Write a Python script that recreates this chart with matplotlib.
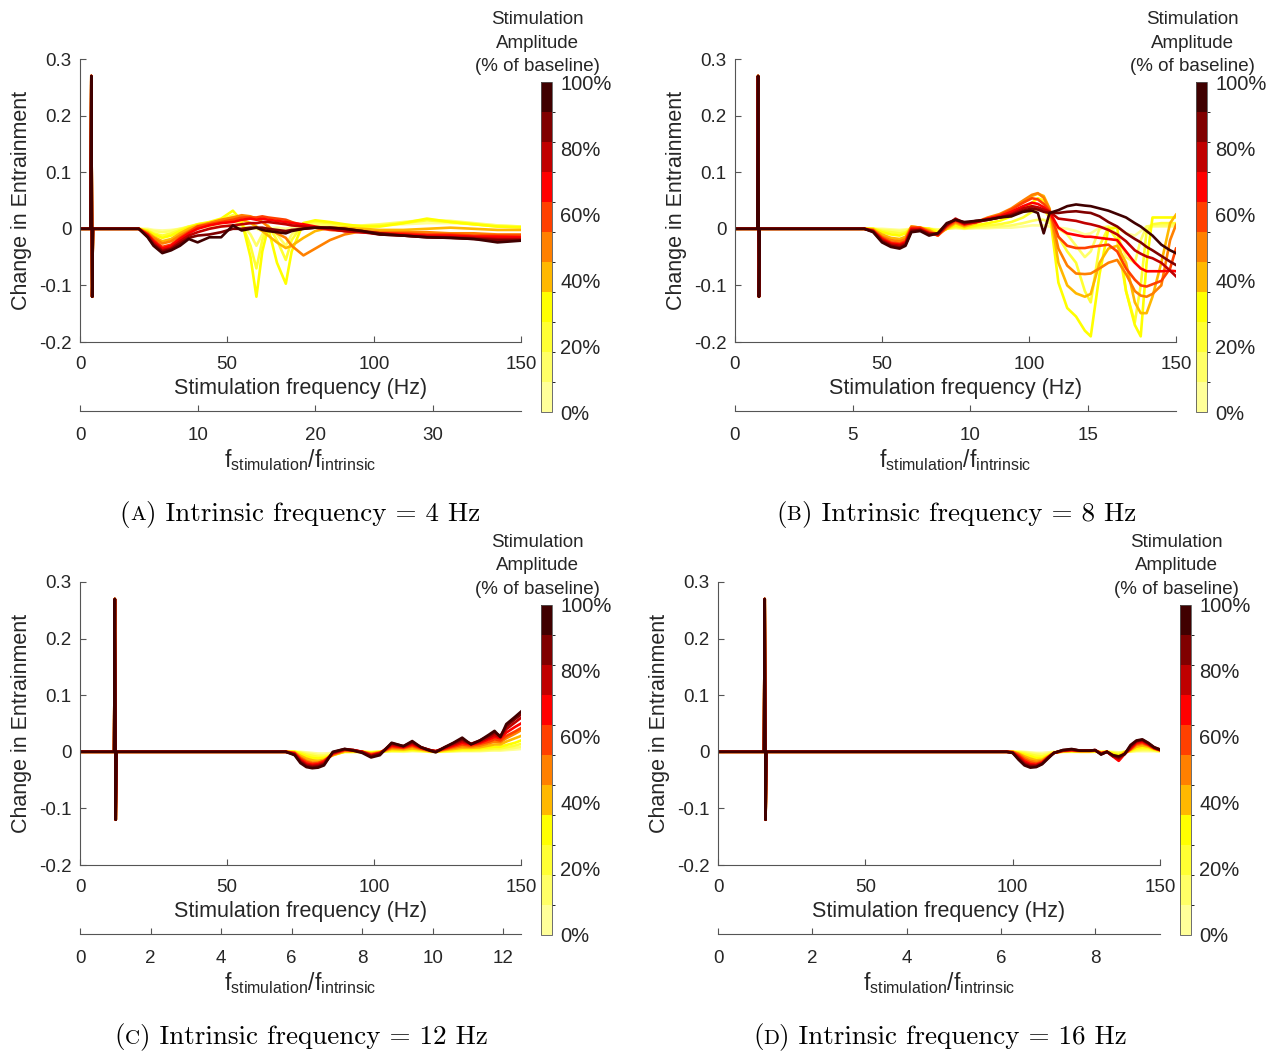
import numpy as np
import matplotlib
matplotlib.use('Agg')
import matplotlib.pyplot as plt
from matplotlib.colors import ListedColormap, BoundaryNorm
from matplotlib.cm import ScalarMappable
from matplotlib.offsetbox import TextArea, HPacker, AnchoredOffsetbox

plt.rcParams['font.family'] = ['Liberation Sans', 'DejaVu Sans']
plt.rcParams['mathtext.fontset'] = 'custom'
plt.rcParams['mathtext.rm'] = 'Liberation Sans'

W, H = 1274, 1052
TXT = '#262626'
AX = '#555555'
FS_TICK = 13.5
FS_LAB = 15.5

# amplitude levels 0% .. 100%, pale yellow -> dark brown
amp_colors = ['#ffff99', '#ffff66', '#ffff33', '#ffff00', '#ffb800', '#ff8000',
              '#ff4000', '#ff0000', '#c00000', '#800000', '#400000']
amp_ticks = [0, 20, 40, 60, 80, 100]
intrinsic = [4, 8, 12, 16]
letters = ['A', 'B', 'C', 'D']
freq_ticks = [0, 50, 100, 150]
ytick_vals = [-0.2, -0.1, 0, 0.1, 0.2, 0.3]
ytick_txt = ['-0.2', '-0.1', '0', '0.1', '0.2', '0.3']
ratio_ticks_a = [0, 10, 20, 30]
ratio_ticks_b = [0, 5, 10, 15]
ratio_ticks_c = [0, 2, 4, 6, 8, 10, 12]
ratio_ticks_d = [0, 2, 4, 6, 8]

# resonance spike at the intrinsic frequency (same for every amplitude)
spike_offset = [-0.4, -0.15, 0.15, 0.4]
spike_change = [0.0, 0.27, -0.12, 0.0]

freq_a = [20, 23, 25, 28, 31, 34, 37, 40, 44, 48, 52, 55, 58, 60, 62, 64, 67, 70, 72, 76,
          80, 85, 90, 96, 102, 110, 118, 126, 134, 142, 150]
change_a = [
    [0, 0, -0.002, -0.003, -0.002, 0, 0.002, 0.003, 0.003, 0.004, 0.006, 0.004, 0.002, 0, -0.004, 0, 0.002, 0, 0.002, 0.004, 0.005, 0.004, 0.003, 0.004, 0.006, 0.008, 0.010, 0.010, 0.008, 0.006, 0.004],
    [0, -0.002, -0.004, -0.006, -0.004, 0, 0.004, 0.006, 0.008, 0.010, 0.014, 0.008, -0.010, -0.030, -0.010, 0.004, -0.010, -0.030, -0.010, 0.006, 0.008, 0.006, 0.005, 0.006, 0.008, 0.012, 0.016, 0.014, 0.010, 0.006, 0.004],
    [0, -0.003, -0.008, -0.012, -0.008, -0.002, 0.004, 0.008, 0.010, 0.016, 0.024, 0.010, -0.030, -0.070, -0.020, 0.006, -0.020, -0.055, -0.020, 0.010, 0.012, 0.010, 0.006, 0.005, 0.006, 0.010, 0.015, 0.012, 0.008, 0.004, 0.002],
    [0, -0.004, -0.010, -0.016, -0.012, -0.004, 0.002, 0.008, 0.012, 0.018, 0.032, 0.014, -0.050, -0.120, -0.040, 0.002, -0.060, -0.097, -0.040, 0.010, 0.015, 0.012, 0.008, 0.004, 0.004, 0.010, 0.018, 0.012, 0.008, 0.004, 0.003],
    [0, -0.006, -0.014, -0.022, -0.018, -0.008, 0.000, 0.006, 0.010, 0.014, 0.020, 0.016, 0.010, 0.004, -0.004, -0.012, -0.024, -0.034, -0.030, -0.016, -0.004, 0.002, 0.002, 0.000, -0.002, -0.002, 0.000, 0.002, 0.000, -0.002, -0.002],
    [0, -0.008, -0.016, -0.026, -0.022, -0.012, -0.004, 0.004, 0.010, 0.016, 0.020, 0.024, 0.022, 0.018, 0.012, 0.004, -0.008, -0.016, -0.030, -0.047, -0.035, -0.020, -0.010, -0.004, -0.006, -0.006, -0.006, -0.008, -0.008, -0.010, -0.010],
    [0, -0.010, -0.020, -0.032, -0.028, -0.016, -0.006, 0.004, 0.008, 0.012, 0.016, 0.020, 0.020, 0.020, 0.022, 0.020, 0.018, 0.016, 0.012, 0.006, 0.002, -0.002, -0.004, -0.006, -0.008, -0.008, -0.010, -0.010, -0.012, -0.012, -0.012],
    [0, -0.010, -0.022, -0.035, -0.030, -0.018, -0.008, 0.000, 0.006, 0.010, 0.012, 0.016, 0.018, 0.016, 0.018, 0.016, 0.014, 0.012, 0.010, 0.008, 0.004, 0.000, -0.004, -0.006, -0.008, -0.010, -0.012, -0.012, -0.014, -0.014, -0.015],
    [0, -0.012, -0.025, -0.038, -0.034, -0.022, -0.012, -0.006, 0.000, 0.004, 0.006, 0.008, 0.010, 0.010, 0.012, 0.012, 0.010, 0.008, 0.006, 0.004, 0.002, 0.000, -0.004, -0.006, -0.010, -0.012, -0.014, -0.015, -0.016, -0.018, -0.018],
    [0, -0.014, -0.028, -0.040, -0.036, -0.026, -0.016, -0.012, -0.010, -0.006, 0.000, 0.000, 0.002, 0.002, 0.002, 0.000, -0.002, -0.004, -0.002, 0.000, 0.002, 0.002, 0.000, -0.004, -0.008, -0.012, -0.015, -0.016, -0.018, -0.020, -0.020],
    [0, -0.015, -0.030, -0.043, -0.038, -0.030, -0.018, -0.024, -0.015, -0.015, 0.006, -0.003, 0.000, 0.002, -0.002, -0.004, -0.006, -0.008, -0.004, 0.000, 0.002, 0.002, 0.000, -0.004, -0.010, -0.012, -0.015, -0.016, -0.018, -0.024, -0.021],
]

freq_b = [44, 47, 50, 53, 56, 58, 60, 63, 66, 69, 72, 75, 78, 82, 86, 90, 94, 98, 101, 103, 105, 107,
          110, 113, 116, 119, 121, 124, 127, 130, 133, 136, 138, 140, 142, 145, 148, 150]
change_b = [
    [0, 0, 0, -0.001, -0.002, -0.001, 0, 0, 0, -0.001, 0, 0.001, 0, 0.001, 0.001, 0.002, 0.002, 0.004, 0.006, 0.006, 0.006, 0.004,
     0.002, 0.000, -0.004, -0.010, -0.008, 0.002, 0.004, 0.002, -0.008, -0.012, -0.004, 0.004, 0.004, 0.004, 0.004, 0.004],
    [0, 0, -0.002, -0.003, -0.004, -0.003, 0, 0.001, 0, -0.002, 0, 0.002, 0.001, 0.002, 0.003, 0.004, 0.006, 0.010, 0.014, 0.016, 0.016, 0.010,
     0.000, -0.010, -0.030, -0.050, -0.040, 0.000, 0.004, -0.010, -0.050, -0.060, -0.020, 0.004, 0.006, 0.006, 0.006, 0.006],
    [0, 0, -0.004, -0.006, -0.008, -0.006, 0.000, 0.001, 0.000, -0.004, 0.000, 0.004, 0.001, 0.004, 0.006, 0.008, 0.012, 0.020, 0.030, 0.036, 0.034, 0.020,
     -0.014, -0.040, -0.060, -0.110, -0.130, -0.030, 0.002, -0.020, -0.110, -0.165, -0.100, -0.005, 0.008, 0.010, 0.010, 0.010],
    [0, 0, -0.006, -0.010, -0.012, -0.008, 0.002, 0.002, 0.000, -0.006, 0.000, 0.006, 0.002, 0.006, 0.010, 0.014, 0.022, 0.034, 0.046, 0.054, 0.050, 0.030,
     -0.095, -0.140, -0.155, -0.180, -0.190, -0.080, 0.000, 0.002, -0.110, -0.170, -0.190, -0.060, 0.020, 0.020, 0.020, 0.020],
    [0, -0.001, -0.010, -0.016, -0.018, -0.014, 0.004, 0.002, -0.002, -0.010, 0.000, 0.010, 0.004, 0.010, 0.018, 0.024, 0.034, 0.048, 0.058, 0.062, 0.058, 0.036,
     -0.060, -0.100, -0.114, -0.120, -0.115, -0.060, -0.035, -0.030, -0.060, -0.130, -0.149, -0.149, -0.120, -0.060, 0.010, 0.025],
    [0, -0.002, -0.014, -0.020, -0.022, -0.018, 0.004, 0.002, -0.004, -0.012, 0.002, 0.012, 0.006, 0.012, 0.020, 0.026, 0.036, 0.050, 0.060, 0.063, 0.055, 0.034,
     -0.035, -0.065, -0.079, -0.080, -0.079, -0.070, -0.060, -0.055, -0.080, -0.110, -0.118, -0.120, -0.115, -0.100, -0.020, 0.007],
    [0, -0.003, -0.016, -0.024, -0.026, -0.022, 0.002, 0.002, -0.006, -0.012, 0.004, 0.014, 0.008, 0.012, 0.018, 0.024, 0.034, 0.046, 0.054, 0.052, 0.044, 0.032,
     -0.014, -0.030, -0.034, -0.034, -0.032, -0.030, -0.028, -0.040, -0.070, -0.090, -0.100, -0.102, -0.098, -0.092, -0.070, -0.035],
    [0, -0.004, -0.018, -0.026, -0.028, -0.024, 0.000, 0.000, -0.008, -0.010, 0.006, 0.016, 0.008, 0.012, 0.018, 0.022, 0.030, 0.040, 0.046, 0.044, 0.038, 0.030,
     0.002, -0.008, -0.011, -0.014, -0.014, -0.016, -0.018, -0.020, -0.040, -0.060, -0.070, -0.075, -0.075, -0.075, -0.074, -0.075],
    [0, -0.004, -0.020, -0.028, -0.030, -0.026, -0.002, -0.002, -0.008, -0.010, 0.006, 0.018, 0.010, 0.012, 0.016, 0.020, 0.026, 0.036, 0.040, 0.038, 0.034, 0.030,
     0.018, 0.016, 0.014, 0.010, 0.008, 0.004, -0.002, -0.010, -0.022, -0.038, -0.044, -0.049, -0.052, -0.060, -0.074, -0.084],
    [0, -0.005, -0.022, -0.030, -0.033, -0.028, -0.004, -0.002, -0.010, -0.008, 0.008, 0.016, 0.010, 0.014, 0.016, 0.020, 0.024, 0.032, 0.036, 0.034, 0.030, 0.028,
     0.028, 0.030, 0.031, 0.029, 0.028, 0.022, 0.012, 0.004, -0.008, -0.018, -0.024, -0.032, -0.038, -0.048, -0.058, -0.064],
    [0, -0.006, -0.024, -0.032, -0.035, -0.030, -0.006, -0.004, -0.012, -0.008, 0.010, 0.016, 0.012, 0.014, 0.016, 0.020, 0.022, 0.030, 0.032, 0.028, -0.008, 0.028,
     0.033, 0.040, 0.043, 0.041, 0.040, 0.036, 0.032, 0.026, 0.020, 0.010, 0.004, -0.004, -0.012, -0.028, -0.038, -0.043],
]

freq_c = [70, 73, 75, 77, 79, 81, 83, 86, 90, 93, 96, 99, 102, 106, 110, 113, 116, 119, 121, 124,
          127, 130, 133, 136, 139, 141, 143, 145, 148, 150]
change_c = [
    [0, 0, 0, -0.001, -0.002, -0.003, -0.003, -0.002, 0, 0, 0, 0, 0, 0.001, 0, 0.001, 0.001, 0, 0, 0, 0.001, 0.001, 0.001, 0.001, 0.002, 0.002, 0.002, 0.003, 0.004, 0.005],
    [0, 0, -0.001, -0.003, -0.004, -0.006, -0.006, -0.004, 0, 0, 0, -0.001, 0, 0.001, 0.001, 0.002, 0.001, 0, 0, 0.001, 0.001, 0.002, 0.002, 0.002, 0.003, 0.004, 0.004, 0.005, 0.007, 0.009],
    [0, 0, -0.002, -0.005, -0.007, -0.009, -0.009, -0.005, 0.000, 0.000, 0.000, -0.001, 0.000, 0.002, 0.002, 0.003, 0.002, 0.001, 0.000, 0.001, 0.002, 0.003, 0.003, 0.004, 0.005, 0.006, 0.006, 0.008, 0.011, 0.014],
    [0, 0, -0.004, -0.008, -0.011, -0.012, -0.011, -0.006, 0.000, 0.000, 0.000, -0.002, 0.000, 0.003, 0.003, 0.004, 0.003, 0.001, 0.000, 0.002, 0.003, 0.005, 0.005, 0.006, 0.008, 0.009, 0.009, 0.012, 0.016, 0.020],
    [0, -0.001, -0.007, -0.012, -0.015, -0.016, -0.014, -0.006, 0.001, 0.001, 0.000, -0.003, -0.001, 0.005, 0.004, 0.006, 0.004, 0.001, 0.000, 0.003, 0.005, 0.007, 0.007, 0.008, 0.011, 0.013, 0.013, 0.018, 0.024, 0.028],
    [0, -0.002, -0.010, -0.016, -0.019, -0.019, -0.016, -0.005, 0.002, 0.002, 0.000, -0.004, -0.001, 0.007, 0.006, 0.009, 0.005, 0.002, 0.001, 0.004, 0.007, 0.010, 0.009, 0.011, 0.015, 0.018, 0.017, 0.024, 0.032, 0.038],
    [0, -0.002, -0.012, -0.018, -0.021, -0.020, -0.016, -0.004, 0.003, 0.002, 0.000, -0.005, -0.002, 0.009, 0.007, 0.011, 0.006, 0.002, 0.001, 0.005, 0.009, 0.013, 0.011, 0.014, 0.018, 0.022, 0.020, 0.028, 0.036, 0.042],
    [0, -0.003, -0.014, -0.021, -0.023, -0.022, -0.018, -0.003, 0.004, 0.003, 0.000, -0.006, -0.002, 0.011, 0.008, 0.013, 0.007, 0.003, 0.001, 0.006, 0.011, 0.016, 0.013, 0.016, 0.022, 0.026, 0.024, 0.034, 0.044, 0.050],
    [0, -0.004, -0.016, -0.023, -0.025, -0.024, -0.020, -0.002, 0.004, 0.003, 0.000, -0.007, -0.003, 0.013, 0.009, 0.015, 0.008, 0.003, 0.001, 0.007, 0.013, 0.019, 0.014, 0.018, 0.025, 0.030, 0.026, 0.040, 0.052, 0.060],
    [0, -0.005, -0.018, -0.025, -0.027, -0.026, -0.022, -0.001, 0.005, 0.003, -0.001, -0.008, -0.004, 0.015, 0.010, 0.017, 0.008, 0.003, 0.000, 0.008, 0.015, 0.022, 0.014, 0.020, 0.028, 0.034, 0.028, 0.045, 0.058, 0.066],
    [0, -0.006, -0.020, -0.027, -0.029, -0.028, -0.024, 0.000, 0.005, 0.002, -0.002, -0.010, -0.006, 0.016, 0.010, 0.019, 0.008, 0.002, -0.001, 0.008, 0.016, 0.025, 0.013, 0.020, 0.030, 0.037, 0.026, 0.049, 0.062, 0.071],
]

freq_d = [98, 100, 102, 104, 106, 108, 110, 112, 114, 117, 120, 123, 126, 128, 130, 132, 134, 136,
          138, 140, 142, 144, 146, 148, 150]
change_d = [
    [0, 0, 0, 0, -0.001, -0.002, -0.002, -0.001, 0, 0, 0, 0, 0, 0, 0, 0, 0, -0.001, 0, 0, 0.001, 0.001, 0.001, 0.001, 0],
    [0, 0, 0, -0.001, -0.003, -0.004, -0.005, -0.003, -0.001, 0, 0, 0, 0, 0, 0, 0, -0.001, -0.002, 0, 0.001, 0.002, 0.003, 0.003, 0.002, 0.001],
    [0, 0, -0.001, -0.003, -0.005, -0.007, -0.008, -0.005, -0.001, 0, 0.001, 0, 0, 0.001, -0.001, 0, -0.002, -0.004, 0, 0.001, 0.004, 0.005, 0.005, 0.003, 0.002],
    [0, 0, -0.002, -0.005, -0.008, -0.011, -0.011, -0.007, -0.002, 0.001, 0.001, 0.001, 0.001, 0.001, -0.001, 0.000, -0.003, -0.006, -0.001, 0.002, 0.006, 0.008, 0.007, 0.004, 0.002],
    [0, 0, -0.003, -0.008, -0.012, -0.015, -0.014, -0.008, -0.002, 0.001, 0.002, 0.001, 0.001, 0.002, -0.002, 0.000, -0.005, -0.009, -0.001, 0.003, 0.009, 0.011, 0.009, 0.005, 0.002],
    [0, 0, -0.004, -0.011, -0.016, -0.018, -0.016, -0.009, -0.002, 0.001, 0.002, 0.001, 0.001, 0.002, -0.002, 0.000, -0.006, -0.012, -0.002, 0.004, 0.012, 0.014, 0.011, 0.006, 0.003],
    [0, -0.001, -0.006, -0.014, -0.019, -0.021, -0.018, -0.010, -0.002, 0.002, 0.003, 0.002, 0.002, 0.002, -0.003, 0.000, -0.007, -0.014, -0.003, 0.005, 0.014, 0.016, 0.012, 0.006, 0.003],
    [0, -0.001, -0.008, -0.017, -0.022, -0.023, -0.019, -0.010, -0.002, 0.002, 0.003, 0.002, 0.002, 0.003, -0.003, 0.000, -0.008, -0.016, -0.004, 0.006, 0.016, 0.018, 0.013, 0.007, 0.003],
    [0, -0.001, -0.010, -0.020, -0.024, -0.024, -0.020, -0.010, -0.002, 0.002, 0.004, 0.002, 0.002, 0.003, -0.004, 0.000, -0.008, -0.012, -0.004, 0.008, 0.018, 0.020, 0.014, 0.007, 0.003],
    [0, -0.002, -0.012, -0.022, -0.026, -0.026, -0.021, -0.011, -0.002, 0.003, 0.004, 0.002, 0.002, 0.003, -0.004, 0.000, -0.007, -0.010, -0.004, 0.010, 0.019, 0.021, 0.015, 0.008, 0.004],
    [0, -0.002, -0.014, -0.024, -0.028, -0.027, -0.022, -0.012, -0.002, 0.003, 0.005, 0.002, 0.002, 0.003, -0.005, 0.000, -0.006, -0.008, -0.004, 0.012, 0.020, 0.022, 0.016, 0.008, 0.004],
]


def px_rect(left, top, right, bottom):
    return [left / W, 1 - bottom / H, (right - left) / W, (bottom - top) / H]


fig = plt.figure(figsize=(W / 100, H / 100), dpi=100)

cmap = ListedColormap(amp_colors)
norm = BoundaryNorm(np.linspace(0, 100, 12), cmap.N)


def panel(left, right, top, f0, freq, change, ratio_ticks, letter, cb_left, cap_x):
    bottom = top + 283
    ax = fig.add_axes(px_rect(left, top, right, bottom))
    for k, ys in enumerate(change):
        xs = [0] + [f0 + o for o in spike_offset] + freq
        yy = [0] + spike_change + ys
        ax.plot(xs, yy, color=amp_colors[k], lw=1.9, solid_joinstyle='round')
    ax.set_xlim(0, 150)
    ax.set_ylim(-0.2, 0.3)
    ax.set_xticks(freq_ticks)
    ax.set_yticks(ytick_vals)
    ax.set_yticklabels(ytick_txt)
    for s in ['top', 'right']:
        ax.spines[s].set_visible(False)
    for s in ['left', 'bottom']:
        ax.spines[s].set_color(AX)
        ax.spines[s].set_linewidth(0.8)
    ax.tick_params(direction='in', length=4, width=0.8, color=AX, labelcolor=TXT,
                   labelsize=FS_TICK)
    ax.tick_params(axis='x', pad=10)
    ax.tick_params(axis='y', pad=6)
    ax.set_xlabel('Stimulation frequency (Hz)', fontsize=FS_LAB, color=TXT, labelpad=4)
    ax.set_ylabel('Change in Entrainment', fontsize=FS_LAB, color=TXT, labelpad=5)

    # second x axis: stimulation / intrinsic frequency ratio
    r_y = bottom + 69
    ax2 = fig.add_axes(px_rect(left, r_y - 1, right, r_y))
    ax2.set_xlim(0, 150 / f0)
    ax2.set_xticks(ratio_ticks)
    ax2.set_yticks([])
    for s in ['top', 'right', 'left']:
        ax2.spines[s].set_visible(False)
    ax2.spines['bottom'].set_color(AX)
    ax2.spines['bottom'].set_linewidth(0.8)
    ax2.patch.set_visible(False)
    ax2.tick_params(direction='in', length=4, width=0.8, color=AX, labelcolor=TXT,
                    labelsize=FS_TICK, pad=11.5)
    ax2.set_xlabel(r'$\mathregular{f_{stimulation}/f_{intrinsic}}$', fontsize=16.5,
                   color=TXT, labelpad=2)

    # colorbar
    cb_top = top + 23
    cax = fig.add_axes(px_rect(cb_left, cb_top, cb_left + 11, cb_top + 330))
    cb = fig.colorbar(ScalarMappable(norm=norm, cmap=cmap), cax=cax, ticks=amp_ticks)
    cb.set_ticklabels([f'{t}%' for t in amp_ticks])
    cb.ax.tick_params(length=0, labelsize=14.5, labelcolor=TXT, pad=6)
    cb.outline.set_edgecolor(AX)
    cb.outline.set_linewidth(0.6)
    fig.text((cb_left - 4) / W, 1 - (top - 16) / H,
             'Stimulation\nAmplitude\n(% of baseline)', ha='center', va='center',
             fontsize=13.5, color=TXT, linespacing=1.52)

    # caption with small-caps letter
    cap_y = bottom + 172
    parts = [TextArea('(', textprops=dict(family='cmr10', size=19.5, color='black')),
             TextArea(letter, textprops=dict(family='cmr10', size=15, color='black')),
             TextArea(') Intrinsic frequency = %d Hz' % f0,
                      textprops=dict(family='cmr10', size=19.5, color='black'))]
    box = HPacker(children=parts, align='baseline', pad=0, sep=0)
    anch = AnchoredOffsetbox(loc='center', child=box, frameon=False, pad=0, borderpad=0,
                             bbox_to_anchor=(cap_x / W, 1 - cap_y / H),
                             bbox_transform=fig.transFigure)
    fig.add_artist(anch)


panel(80, 521, 59, intrinsic[0], freq_a, change_a, ratio_ticks_a, letters[0], 541, 300)
panel(735, 1176, 59, intrinsic[1], freq_b, change_b, ratio_ticks_b, letters[1], 1196, 956)
panel(80, 521, 582, intrinsic[2], freq_c, change_c, ratio_ticks_c, letters[2], 541, 301)
panel(718, 1160, 582, intrinsic[3], freq_d, change_d, ratio_ticks_d, letters[3], 1180, 940)

fig.savefig('out.png', dpi=100)
